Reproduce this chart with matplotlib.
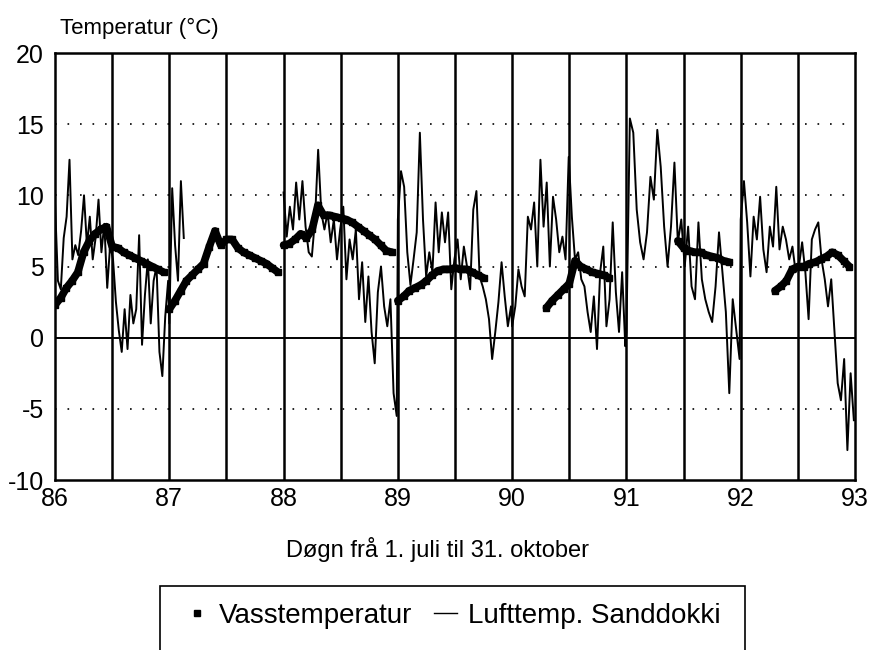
import numpy as np
import matplotlib.pyplot as plt
from matplotlib.lines import Line2D
from matplotlib.patches import Rectangle

nan = np.nan
seasons = [86, 87, 88, 89, 90, 91, 92]

# air temperature (values spread evenly over each season)
air_86 = [9.5, 4.0, 3.4, 7.0, 8.5, 12.5, 5.5, 6.5, 5.8, 7.5, 10.0, 6.5, 8.5, 5.5, 7.0, 9.7,
          6.0, 8.0, 3.5, 6.5, 5.5, 2.5, 0.5, -1.0, 2.0, -0.8, 3.0, 1.0, 2.0, 7.2, -0.5,
          3.0, 5.5, 1.0, 4.0, 5.0, -1.0, -2.7, 1.5, 4.0]
air_87 = [1.0, 10.5, 6.5, 4.0, 11.0, 7.0] + [nan] * 34
air_88 = [10.2, 7.1, 9.2, 7.6, 10.9, 8.3, 11.0, 7.8, 6.0, 5.7, 8.3, 13.2, 8.8, 7.6, 8.8, 6.7,
          8.3, 5.5, 7.6, 9.2, 4.1, 6.9, 5.5, 7.6, 2.7, 5.3, 1.1, 4.3, 0.4, -1.8, 3.2, 5.0,
          2.2, 0.8, 2.7, -3.9, -5.5]
air_89 = [8.3, 11.7, 10.6, 6.0, 3.7, 5.5, 7.4, 14.4, 8.3, 4.3, 6.0, 4.6, 9.5, 6.0, 8.8, 6.7,
          8.8, 3.4, 5.5, 6.9, 4.1, 6.4, 5.0, 3.4, 9.0, 10.3, 4.3, 3.6, 2.7, 1.3, -1.5, 0.4,
          2.5, 5.3, 2.9, 0.8, 2.2]
air_90 = [0.8, 2.2, 4.8, 3.6, 2.9, 8.5, 7.6, 9.5, 5.0, 12.5, 7.8, 10.9, 5.0, 9.9, 8.3, 6.0,
          7.1, 5.5, 12.7, 8.5, 5.5, 6.0, 4.1, 3.6, 1.8, 0.4, 2.9, -0.8, 4.6, 6.4, 0.8, 2.7,
          8.1, 3.2, 0.4, 4.6, -0.6]
air_91 = [0.4, 15.4, 14.4, 9.0, 6.7, 5.5, 7.4, 11.3, 9.7, 14.6, 12.0, 7.8, 5.0, 7.8, 12.3,
          6.7, 8.3, 5.0, 7.8, 3.6, 2.7, 8.1, 4.1, 2.7, 1.8, 1.1, 3.6, 7.4, 4.6, 1.8, -3.9,
          2.7, 0.6, -1.5]
air_92 = [8.3, 11.0, 8.1, 4.3, 8.5, 6.9, 9.9, 6.2, 4.6, 7.8, 6.4, 10.6, 6.2, 7.8, 6.9, 5.5,
          6.4, 4.6, 5.0, 6.7, 4.6, 1.3, 6.9, 7.6, 8.1, 5.5, 4.1, 2.2, 4.1, 0.4, -3.2, -4.4,
          -1.5, -7.9, -2.5, -5.8]

# water temperature, every 0.05 of a season
water_86 = [2.3, 2.8, 3.5, 4.0, 4.6, 6.0, 6.8, 7.3, 7.6, 7.8, 6.4, 6.3, 6.0, 5.8, 5.6, 5.4,
            5.2, 5.0, 4.8, 4.6]
water_87 = [2.0, 2.6, 3.3, 4.0, 4.4, 4.8, 5.2, 6.4, 7.5, 6.5, 6.9, 6.9, 6.3, 6.0, 5.8, 5.6,
            5.4, 5.2, 4.9, 4.6]
water_88 = [6.5, 6.6, 6.9, 7.3, 7.0, 7.6, 9.3, 8.6, 8.6, 8.5, 8.4, 8.3, 8.1, 7.8, 7.5, 7.2,
            6.9, 6.5, 6.1, 6.0]
water_89 = [2.6, 2.9, 3.3, 3.5, 3.7, 4.0, 4.4, 4.7, 4.8, 4.8, 4.9, 4.8, 4.8, 4.6, 4.4, 4.2,
            nan, nan, nan, nan]
water_90 = [nan] * 6 + [2.1, 2.6, 3.0, 3.4, 3.8, 5.4, 5.0, 4.8, 4.6, 4.5, 4.4, 4.2, nan, nan]
water_91 = [nan] * 9 + [6.8, 6.3, 6.1, 6.0, 6.0, 5.8, 5.7, 5.6, 5.4, 5.3, nan]
water_92 = [nan] * 6 + [3.3, 3.6, 4.0, 4.8, 5.0, 5.0, 5.2, 5.3, 5.5, 5.7, 6.0, 5.8, 5.4, 5.0]

air = [air_86, air_87, air_88, air_89, air_90, air_91, air_92]
water = [water_86, water_87, water_88, water_89, water_90, water_91, water_92]

plt.rcParams['font.family'] = ['Liberation Sans', 'DejaVu Sans']
plt.rcParams['axes.unicode_minus'] = False
fig = plt.figure(figsize=(8.77, 6.5), dpi=100)
ax = fig.add_axes([55 / 877, 1 - 480 / 650, 800 / 877, 427 / 650])

# grid
for y in [-5, 5, 10, 15]:
    ax.axhline(y, color='black', lw=1.2, ls=(0, (1, 6.5)), zorder=1)
ax.axhline(0, color='black', lw=1.4, zorder=1)
for v in np.arange(86.5, 93, 0.5):
    ax.axvline(v, color='black', lw=1.8, zorder=1)

air_x = np.concatenate([s + np.linspace(0, 0.99, len(a)) for s, a in zip(seasons, air)])
air_y = np.concatenate(air)
ax.plot(air_x, air_y, color='black', lw=1.4, zorder=3)

for s, w in zip(seasons, water):
    wx = s + np.arange(len(w)) * 0.05
    ax.plot(wx, w, color='black', lw=5.5, marker='s', ms=5,
            solid_capstyle='round', zorder=2)

ax.set_xlim(86, 93)
ax.set_ylim(-10, 20)
ax.set_xticks(range(86, 94))
ax.set_yticks(range(-10, 21, 5))
ax.tick_params(length=0, labelsize=18)
ax.tick_params(axis='y', pad=8)
ax.tick_params(axis='x', pad=5)
for sp in ax.spines.values():
    sp.set_linewidth(1.8)

fig.text(60 / 877, 1 - 28 / 650, 'Temperatur (°C)', fontsize=16, va='center', ha='left')
fig.text(438 / 877, 1 - 550 / 650, 'Døgn frå 1. juli til 31. oktober', fontsize=17,
         va='center', ha='center')

# legend box
fig.patches.append(Rectangle((160 / 877, 1 - 655 / 650), 585 / 877, 69 / 650,
                             transform=fig.transFigure, fill=False, lw=1.2, color='black'))
handles = [Line2D([], [], ls='none', marker='s', ms=4, color='black'),
           Line2D([], [], color='black', lw=1)]
fig.legend(handles, ['Vasstemperatur', 'Lufttemp. Sanddokki'], loc='center',
           bbox_to_anchor=(453 / 877, 1 - 616 / 650), ncol=2, frameon=False, fontsize=20,
           handlelength=0.8, handletextpad=0.4, columnspacing=0.8)

fig.savefig('out.png', dpi=100)
